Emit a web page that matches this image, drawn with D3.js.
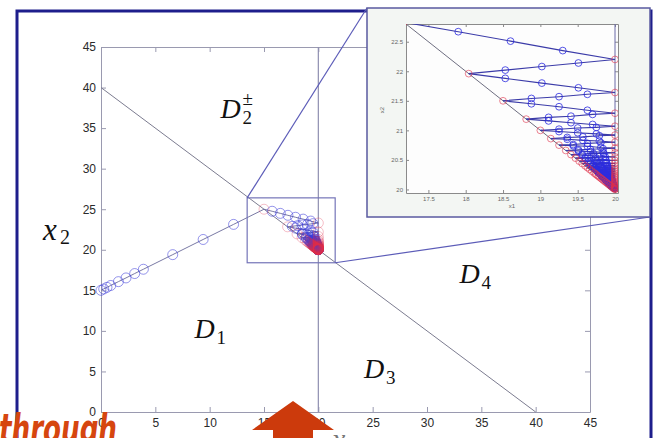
<!DOCTYPE html>
<html>
<head>
<meta charset="utf-8">
<script src="https://cdn.jsdelivr.net/npm/d3@7"></script>
<style>
  body { margin: 0; background: #fff; }
  svg { display: block; }
</style>
</head>
<body>
<div id="chart"></div>
<script>
// ---- data ----
const xTicks = [0, 5, 10, 15, 20, 25, 30, 35, 40, 45];
const yTicks = [0, 5, 10, 15, 20, 25, 30, 35, 40, 45];
const zoomXTicks = [17.5, 18, 18.5, 19, 19.5, 20];
const zoomYTicks = [20, 20.5, 21, 21.5, 22, 22.5];
const boundary = [[0, 40], [40, 0]];      // x1 + x2 = 40
const switchLine = [[20, 0], [20, 45]];   // x1 = 20
const zoomArea = {x0: 13.45, x1: 21.55, y0: 18.4, y1: 26.4};

// first stretch, (0,15) up to the boundary
const approach = [[0, 15], [0.25, 15.17], [0.55, 15.37], [0.9, 15.6], [1.6, 16.07], [2.3, 16.53],
  [3.1, 17.07], [3.9, 17.6], [6.6, 19.4], [9.4, 21.27], [12.2, 23.13], [15, 25]];

// zig-zag legs between the boundary and x1 = 20, last point of each leg is the switch point
const legs = [
  [[15.75, 24.75], [16.5, 24.49], [17.2, 24.25], [17.9, 24.01], [18.6, 23.78], [19.3, 23.54], [20, 23.3]],
  [[19.5, 23.22], [19.0, 23.13], [18.55, 23.06], [18.1, 22.98], [17.6, 22.9], [17.17, 22.83]],
  [[17.9, 22.67], [18.6, 22.51], [19.3, 22.35], [20, 22.2]],
  [[19.51, 22.14], [19.02, 22.08], [18.53, 22.02], [18.04, 21.96]],
  [[18.53, 21.88], [19.02, 21.8], [19.51, 21.72], [20, 21.64]],
  [[19.63, 21.61], [19.25, 21.57], [18.88, 21.54], [18.5, 21.5]],
  [[18.88, 21.45], [19.25, 21.4], [19.63, 21.34], [20, 21.29]],
  [[19.7, 21.27], [19.41, 21.24], [19.11, 21.22], [18.81, 21.19]],
  [[19.11, 21.16], [19.41, 21.13], [19.7, 21.1], [20, 21.07]],
  [[19.75, 21.05], [19.5, 21.04], [19.25, 21.02], [19.0, 21.0]],
  [[19.25, 20.98], [19.5, 20.96], [19.75, 20.94], [20, 20.92]],
  [[19.79, 20.91], [19.57, 20.89], [19.36, 20.88], [19.14, 20.86]],
  [[19.36, 20.85], [19.57, 20.83], [19.79, 20.82], [20, 20.8]],
  [[19.81, 20.79], [19.63, 20.78], [19.44, 20.76], [19.25, 20.75]],
  [[19.44, 20.74], [19.63, 20.73], [19.81, 20.71], [20, 20.7]],
  [[19.84, 20.69], [19.67, 20.68], [19.51, 20.67], [19.34, 20.66]],
  [[19.51, 20.65], [19.67, 20.64], [19.84, 20.63], [20, 20.62]],
  [[19.85, 20.61], [19.71, 20.61], [19.56, 20.6], [19.41, 20.59]],
  [[19.56, 20.58], [19.71, 20.57], [19.85, 20.56], [20, 20.55]],
  [[19.87, 20.55], [19.74, 20.54], [19.6, 20.54], [19.47, 20.53]],
  [[19.6, 20.52], [19.74, 20.51], [19.87, 20.5], [20, 20.49]],
  [[19.88, 20.49], [19.76, 20.49], [19.64, 20.48], [19.52, 20.48]],
  [[19.64, 20.47], [19.76, 20.46], [19.88, 20.45], [20, 20.44]],
  [[19.89, 20.44], [19.78, 20.44], [19.67, 20.44], [19.56, 20.44]],
  [[19.67, 20.43], [19.78, 20.42], [19.89, 20.41], [20, 20.4]],
  [[19.9, 20.4], [19.8, 20.4], [19.7, 20.4], [19.6, 20.4]],
  [[19.7, 20.39], [19.8, 20.38], [19.9, 20.37], [20, 20.36]],
  [[19.91, 20.36], [19.82, 20.37], [19.72, 20.37], [19.63, 20.37]],
  [[19.72, 20.36], [19.82, 20.35], [19.91, 20.34], [20, 20.33]],
  [[19.92, 20.33], [19.83, 20.34], [19.75, 20.34], [19.66, 20.34]],
  [[19.75, 20.33], [19.83, 20.32], [19.92, 20.31], [20, 20.3]],
  [[19.92, 20.3], [19.85, 20.3], [19.77, 20.31], [19.69, 20.31]],
  [[19.77, 20.3], [19.85, 20.29], [19.92, 20.28], [20, 20.27]],
  [[19.93, 20.27], [19.86, 20.28], [19.79, 20.28], [19.72, 20.28]],
  [[19.79, 20.27], [19.86, 20.26], [19.93, 20.25], [20, 20.24]],
  [[19.94, 20.24], [19.87, 20.25], [19.81, 20.25], [19.74, 20.26]],
  [[19.81, 20.25], [19.87, 20.24], [19.94, 20.23], [20, 20.22]],
  [[19.94, 20.22], [19.88, 20.23], [19.82, 20.23], [19.76, 20.24]],
  [[19.82, 20.23], [19.88, 20.22], [19.94, 20.21], [20, 20.2]],
  [[19.95, 20.2], [19.89, 20.21], [19.84, 20.21], [19.78, 20.22]],
  [[19.84, 20.21], [19.89, 20.2], [19.95, 20.19], [20, 20.18]],
  [[19.95, 20.18], [19.9, 20.19], [19.85, 20.19], [19.8, 20.2]],
  [[19.85, 20.19], [19.9, 20.18], [19.95, 20.17], [20, 20.16]],
  [[19.96, 20.16], [19.91, 20.17], [19.87, 20.17], [19.82, 20.18]],
  [[19.87, 20.17], [19.91, 20.16], [19.96, 20.15], [20, 20.14]],
  [[19.96, 20.15], [19.92, 20.15], [19.88, 20.16], [19.84, 20.16]],
  [[19.88, 20.15], [19.92, 20.14], [19.96, 20.13], [20, 20.12]],
  [[19.97, 20.12], [19.93, 20.13], [19.9, 20.13], [19.86, 20.14]],
  [[19.9, 20.13], [19.93, 20.12], [19.97, 20.11], [20, 20.1]],
  [[19.97, 20.1], [19.94, 20.11], [19.91, 20.11], [19.88, 20.12]],
  [[19.91, 20.11], [19.94, 20.1], [19.97, 20.09], [20, 20.08]],
  [[19.98, 20.08], [19.95, 20.09], [19.93, 20.09], [19.9, 20.1]],
  [[19.93, 20.09], [19.95, 20.08], [19.98, 20.07], [20, 20.06]],
  [[19.98, 20.06], [19.96, 20.07], [19.94, 20.07], [19.92, 20.08]],
  [[19.94, 20.07], [19.96, 20.06], [19.98, 20.06], [20, 20.05]],
  [[19.98, 20.05], [19.97, 20.05], [19.95, 20.06], [19.94, 20.06]],
  [[19.95, 20.06], [19.97, 20.05], [19.98, 20.05], [20, 20.04]],
  [[19.99, 20.04], [19.98, 20.04], [19.97, 20.04], [19.96, 20.04]],
  [[19.97, 20.04], [19.98, 20.03], [19.99, 20.03], [20, 20.02]],
  [[19.99, 20.02], [19.98, 20.02]],
  [[19.99, 20.02], [20, 20.01]],
  [[20, 20]]
];

// ---- build marks ----
const allLegs = [approach].concat(legs);
const pts = [];   // every circle, flagged when it is a switch point
const segs = [];
let prev = null;
allLegs.forEach(leg => {
  segs.push(prev ? [prev].concat(leg) : leg.slice());
  leg.forEach((p, j) => pts.push({x: p[0], y: p[1], end: j === leg.length - 1}));
  prev = leg[leg.length - 1];
});

const W = 662, H = 438;
const svg = d3.select('#chart').append('svg')
  .attr('width', W)
  .attr('height', H)
  .style('font-family', '"Liberation Sans", Arial, sans-serif');

// outer frame of the slide
svg.append('rect')
  .attr('x', 17).attr('y', 11)
  .attr('width', 634).attr('height', 450)
  .attr('fill', 'none')
  .attr('stroke', '#1e1e8c')
  .attr('stroke-width', 3);

// ---- main axes ----
const x = d3.scaleLinear().domain([0, 45]).range([101, 590]);
const y = d3.scaleLinear().domain([0, 45]).range([412, 47]);

const axisColor = '#9a9ab0';
function styleAxis(g) {
  g.selectAll('path.domain').attr('stroke', axisColor);
  g.selectAll('.tick line').attr('stroke', axisColor);
  g.selectAll('.tick text').attr('fill', '#2a2a2a').style('font-size', '12px')
    .style('font-family', '"Liberation Sans", Arial, sans-serif');
}

svg.append('g').attr('transform', 'translate(0,412)')
  .call(d3.axisBottom(x).tickValues(xTicks).tickSize(-5).tickSizeOuter(0).tickPadding(6))
  .call(styleAxis);
svg.append('g').attr('transform', 'translate(0,47)')
  .call(d3.axisTop(x).tickValues(xTicks).tickSize(-5).tickSizeOuter(0).tickFormat(''))
  .call(styleAxis);
svg.append('g').attr('transform', 'translate(101,0)')
  .call(d3.axisLeft(y).tickValues(yTicks).tickSize(-5).tickSizeOuter(0).tickPadding(5))
  .call(styleAxis);
svg.append('g').attr('transform', 'translate(590,0)')
  .call(d3.axisRight(y).tickValues(yTicks).tickSize(-5).tickSizeOuter(0).tickFormat(''))
  .call(styleAxis);

const line = (sx, sy) => d3.line().x(d => sx(d[0])).y(d => sy(d[1]));

// switching line and boundary
svg.append('path').datum(switchLine)
  .attr('d', line(x, y))
  .attr('stroke', '#8e8eb0').attr('stroke-width', 1.2).attr('fill', 'none');
svg.append('path').datum(boundary)
  .attr('d', line(x, y))
  .attr('stroke', '#7c7c90').attr('stroke-width', 1).attr('fill', 'none');

// trajectory in the main axes
const main = svg.append('g');
main.selectAll('path.traj').data(segs).enter().append('path')
  .attr('class', 'traj')
  .attr('d', line(x, y))
  .attr('fill', 'none')
  .attr('stroke', '#6a6a9a')
  .attr('stroke-width', 0.9);
main.selectAll('circle.blue').data(pts.filter(d => !d.end)).enter().append('circle')
  .attr('class', 'blue')
  .attr('cx', d => x(d.x)).attr('cy', d => y(d.y)).attr('r', 5)
  .attr('fill', 'none').attr('stroke', '#3c3cd8').attr('stroke-opacity', 0.55).attr('stroke-width', 1);
main.selectAll('circle.red').data(pts.filter(d => d.end)).enter().append('circle')
  .attr('class', 'red')
  .attr('cx', d => x(d.x)).attr('cy', d => y(d.y)).attr('r', 5)
  .attr('fill', 'none').attr('stroke', '#dd2a4a').attr('stroke-opacity', 0.3).attr('stroke-width', 1);

// zoom rectangle
svg.append('rect')
  .attr('x', x(zoomArea.x0)).attr('y', y(zoomArea.y1))
  .attr('width', x(zoomArea.x1) - x(zoomArea.x0))
  .attr('height', y(zoomArea.y0) - y(zoomArea.y1))
  .attr('fill', 'none').attr('stroke', '#7474b8').attr('stroke-width', 1.2);

// region labels
function regionLabel(px, py, sub, sup) {
  const t = svg.append('g').attr('fill', '#111').style('font-family', '"Liberation Serif", "DejaVu Serif", serif');
  t.append('text').attr('x', px).attr('y', py).style('font-size', '28px').style('font-style', 'italic').text('D');
  t.append('text').attr('x', px + 22).attr('y', py + 6).style('font-size', '19px').text(sub);
  if (sup) t.append('text').attr('x', px + 22).attr('y', py - 13).style('font-size', '19px').text(sup);
}
regionLabel(x(11.0), y(36.3), '2', '±');
regionLabel(x(8.6), y(9.1), '1');
regionLabel(x(24.2), y(4.15), '3');
regionLabel(x(33.0), y(15.9), '4');

// x2 axis label
const xl = svg.append('g').attr('fill', '#111').style('font-family', '"Liberation Serif", "DejaVu Serif", serif');
xl.append('text').attr('x', 43).attr('y', 240).style('font-size', '31px').style('font-style', 'italic').text('x');
xl.append('text').attr('x', 60).attr('y', 244).style('font-size', '20px').text('2');
// x1 label, mostly below the picture edge
svg.append('text').attr('x', 332).attr('y', 449).attr('fill', '#777')
  .style('font-family', '"Liberation Serif", "DejaVu Serif", serif')
  .style('font-size', '30px').style('font-style', 'italic').text('x');

// connector lines to the inset
const inset = {left: 367, top: 8, right: 650, bottom: 217};
svg.append('line')
  .attr('x1', x(zoomArea.x0)).attr('y1', y(zoomArea.y1))
  .attr('x2', inset.left).attr('y2', inset.top)
  .attr('stroke', '#5c5cb8').attr('stroke-width', 1.2);
svg.append('line')
  .attr('x1', x(zoomArea.x1)).attr('y1', y(zoomArea.y0))
  .attr('x2', inset.right).attr('y2', inset.bottom)
  .attr('stroke', '#5c5cb8').attr('stroke-width', 1.2);

// ---- inset ----
svg.append('rect')
  .attr('x', inset.left).attr('y', inset.top)
  .attr('width', inset.right - inset.left).attr('height', inset.bottom - inset.top)
  .attr('fill', '#f3f6f3').attr('stroke', '#5a5aa0').attr('stroke-width', 1.5);

const zx = d3.scaleLinear().domain([17.2, 20.04]).range([406, 618]);
const zy = d3.scaleLinear().domain([19.94, 22.8]).range([193, 24]);

svg.append('rect')
  .attr('x', 406).attr('y', 24).attr('width', 212).attr('height', 169)
  .attr('fill', '#fdfdfd');

svg.append('clipPath').attr('id', 'clipz')
  .append('rect').attr('x', 406).attr('y', 24).attr('width', 212).attr('height', 169);

const fmt = d3.format('~g');
function styleSmall(g) {
  g.selectAll('path.domain').attr('stroke', '#8a8a8a');
  g.selectAll('.tick line').attr('stroke', '#8a8a8a');
  g.selectAll('.tick text').attr('fill', '#666').style('font-size', '6px')
    .style('font-family', '"Liberation Sans", Arial, sans-serif');
}
svg.append('g').attr('transform', 'translate(0,193)')
  .call(d3.axisBottom(zx).tickValues(zoomXTicks).tickSize(-3).tickSizeOuter(0).tickPadding(4).tickFormat(fmt))
  .call(styleSmall);
svg.append('g').attr('transform', 'translate(0,24)')
  .call(d3.axisTop(zx).tickValues(zoomXTicks).tickSize(-3).tickSizeOuter(0).tickFormat(''))
  .call(styleSmall);
svg.append('g').attr('transform', 'translate(406,0)')
  .call(d3.axisLeft(zy).tickValues(zoomYTicks).tickSize(-3).tickSizeOuter(0).tickPadding(3).tickFormat(fmt))
  .call(styleSmall);
svg.append('g').attr('transform', 'translate(618,0)')
  .call(d3.axisRight(zy).tickValues(zoomYTicks).tickSize(-3).tickSizeOuter(0).tickFormat(''))
  .call(styleSmall);

svg.append('text').attr('x', 512).attr('y', 208).attr('text-anchor', 'middle')
  .attr('fill', '#666').style('font-size', '6px').text('x1');
svg.append('text').attr('transform', 'translate(384,110) rotate(-90)').attr('text-anchor', 'middle')
  .attr('fill', '#666').style('font-size', '6px').text('x2');

const zg = svg.append('g').attr('clip-path', 'url(#clipz)');
zg.append('path').datum(boundary)
  .attr('d', line(zx, zy))
  .attr('stroke', '#6e6e80').attr('stroke-width', 1).attr('fill', 'none');
zg.append('path').datum(switchLine)
  .attr('d', line(zx, zy))
  .attr('stroke', '#6a6aa8').attr('stroke-width', 1).attr('fill', 'none');
zg.selectAll('path.traj').data(segs).enter().append('path')
  .attr('class', 'traj')
  .attr('d', line(zx, zy))
  .attr('fill', 'none')
  .attr('stroke', '#3b3ba8')
  .attr('stroke-width', 1.1);
zg.selectAll('circle.blue').data(pts.filter(d => !d.end)).enter().append('circle')
  .attr('class', 'blue')
  .attr('cx', d => zx(d.x)).attr('cy', d => zy(d.y)).attr('r', 3.4)
  .attr('fill', 'none').attr('stroke', '#2c2ce0').attr('stroke-opacity', 0.8).attr('stroke-width', 1);
zg.selectAll('circle.red').data(pts.filter(d => d.end)).enter().append('circle')
  .attr('class', 'red')
  .attr('cx', d => zx(d.x)).attr('cy', d => zy(d.y)).attr('r', 3.4)
  .attr('fill', 'none').attr('stroke', '#e0304a').attr('stroke-opacity', 0.6).attr('stroke-width', 1);

// ---- slide overlay: arrow and word ----
svg.append('path')
  .attr('d', 'M293,401 L334,430 L313,430 L313,440 L273,440 L273,430 L252,430 Z')
  .attr('fill', '#cc3a0c');
svg.append('text')
  .attr('x', -1).attr('y', 443)
  .attr('textLength', 118).attr('lengthAdjust', 'spacingAndGlyphs')
  .attr('fill', '#d6460f')
  .style('font-family', '"DejaVu Sans", sans-serif')
  .style('font-weight', 'bold').style('font-style', 'italic')
  .style('font-size', '41px')
  .text('through');
</script>
</body>
</html>
